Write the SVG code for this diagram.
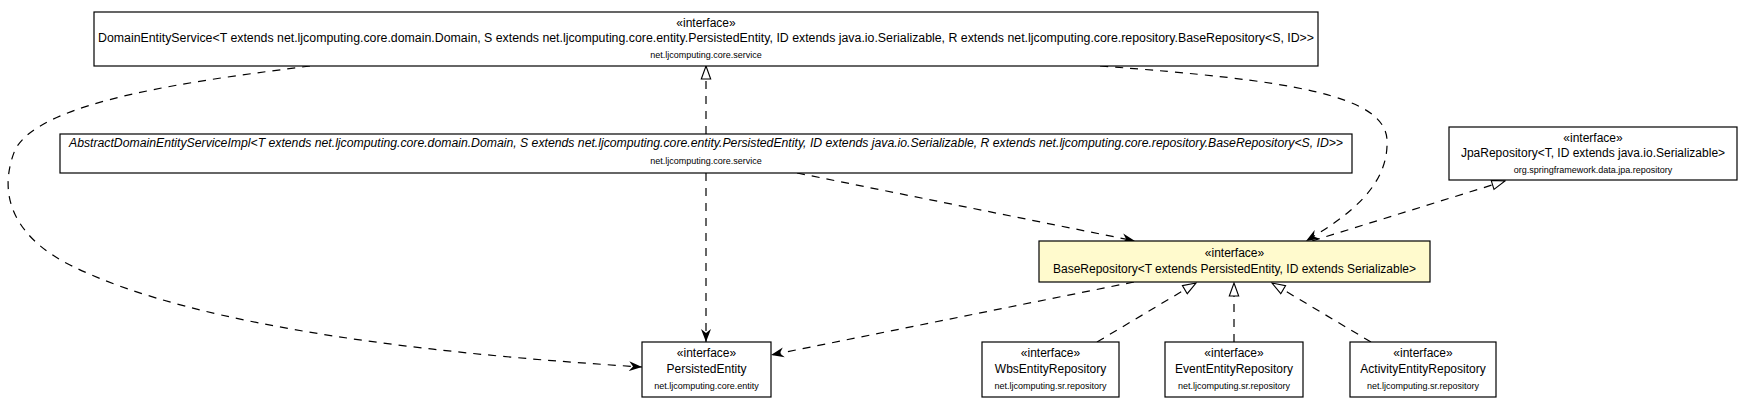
<svg xmlns="http://www.w3.org/2000/svg" width="1753" height="408" viewBox="0 0 1753 408">
<style>
.box{fill:#fff;stroke:#000;stroke-width:1.2}
.cur{fill:#fffacd;stroke:#000;stroke-width:1.2}
text{font-family:"Liberation Sans",Arial,Helvetica,sans-serif;fill:#000;text-anchor:middle}
.n{font-size:12px}
.p{font-size:9px}
.i{font-style:italic}
.dep path{fill:none;stroke:#000;stroke-width:1.2;stroke-dasharray:8,7}
</style>
<defs>
<marker id="vee" viewBox="0 0 13 11" refX="13" refY="5.5" markerWidth="13" markerHeight="11" orient="auto" markerUnits="userSpaceOnUse">
<path d="M0,0.5 L13,5.5 L0,10.5 L4,5.5 z" fill="#000" stroke="none"/>
</marker>
<marker id="tri" viewBox="-1 -1 15 13" refX="13" refY="5.5" markerWidth="15" markerHeight="13" orient="auto" markerUnits="userSpaceOnUse">
<path d="M0,0.8 L13,5.5 L0,10.2 z" fill="#fff" stroke="#000" stroke-width="1.1" stroke-dasharray="none"/>
</marker>
</defs>
<rect width="1753" height="408" fill="#fff"/>

<g id="connectors" class="dep">
<path d="M310,66 C200,80 40,100 15,150 C-5,200 20,240 70,265 C200,330 450,355 642,367" marker-end="url(#vee)"/>
<path d="M1100,66 C1290,80 1385,95 1387,140 C1389,185 1350,215 1306,241" marker-end="url(#vee)"/>
<path d="M706,134 L706,66" marker-end="url(#tri)"/>
<path d="M706,173 L706,342" marker-end="url(#vee)"/>
<path d="M797,173 L1135,241" marker-end="url(#vee)"/>
<path d="M1134,282 L771,355" marker-end="url(#vee)"/>
<path d="M1312,241 L1505,181" marker-end="url(#tri)"/>
<path d="M1097,342 L1196,283" marker-end="url(#tri)"/>
<path d="M1234,342 L1234,283" marker-end="url(#tri)"/>
<path d="M1371,342 L1272,283" marker-end="url(#tri)"/>
</g>

<g id="DomainEntityService">
<rect class="box" x="94" y="12" width="1224" height="54"/>
<text class="n" x="706" y="27">«interface»</text>
<text class="n" x="706" y="42" textLength="1216" lengthAdjust="spacingAndGlyphs">DomainEntityService&lt;T extends net.ljcomputing.core.domain.Domain, S extends net.ljcomputing.core.entity.PersistedEntity, ID extends java.io.Serializable, R extends net.ljcomputing.core.repository.BaseRepository&lt;S, ID&gt;&gt;</text>
<text class="p" x="706" y="57.5">net.ljcomputing.core.service</text>
</g>

<g id="AbstractDomainEntityServiceImpl">
<rect class="box" x="60" y="134" width="1292" height="39"/>
<text class="n i" x="706" y="147" textLength="1274" lengthAdjust="spacingAndGlyphs">AbstractDomainEntityServiceImpl&lt;T extends net.ljcomputing.core.domain.Domain, S extends net.ljcomputing.core.entity.PersistedEntity, ID extends java.io.Serializable, R extends net.ljcomputing.core.repository.BaseRepository&lt;S, ID&gt;&gt;</text>
<text class="p" x="706" y="164">net.ljcomputing.core.service</text>
</g>

<g id="JpaRepository">
<rect class="box" x="1449" y="127" width="288" height="53"/>
<text class="n" x="1593" y="141.5">«interface»</text>
<text class="n" x="1593" y="157">JpaRepository&lt;T, ID extends java.io.Serializable&gt;</text>
<text class="p" x="1593" y="172.5">org.springframework.data.jpa.repository</text>
</g>

<g id="BaseRepository">
<rect class="cur" x="1039" y="241" width="391" height="41"/>
<text class="n" x="1234.5" y="256.5">«interface»</text>
<text class="n" x="1234.5" y="273">BaseRepository&lt;T extends PersistedEntity, ID extends Serializable&gt;</text>
</g>

<g id="PersistedEntity">
<rect class="box" x="642" y="342" width="129" height="55"/>
<text class="n" x="706.5" y="357">«interface»</text>
<text class="n" x="706.5" y="373">PersistedEntity</text>
<text class="p" x="706.5" y="388.5">net.ljcomputing.core.entity</text>
</g>

<g id="WbsEntityRepository">
<rect class="box" x="982" y="342" width="137" height="55"/>
<text class="n" x="1050.5" y="357">«interface»</text>
<text class="n" x="1050.5" y="373">WbsEntityRepository</text>
<text class="p" x="1050.5" y="388.5">net.ljcomputing.sr.repository</text>
</g>

<g id="EventEntityRepository">
<rect class="box" x="1165" y="342" width="138" height="55"/>
<text class="n" x="1234" y="357">«interface»</text>
<text class="n" x="1234" y="373">EventEntityRepository</text>
<text class="p" x="1234" y="388.5">net.ljcomputing.sr.repository</text>
</g>

<g id="ActivityEntityRepository">
<rect class="box" x="1350" y="342" width="146" height="55"/>
<text class="n" x="1423" y="357">«interface»</text>
<text class="n" x="1423" y="373">ActivityEntityRepository</text>
<text class="p" x="1423" y="388.5">net.ljcomputing.sr.repository</text>
</g>
</svg>
